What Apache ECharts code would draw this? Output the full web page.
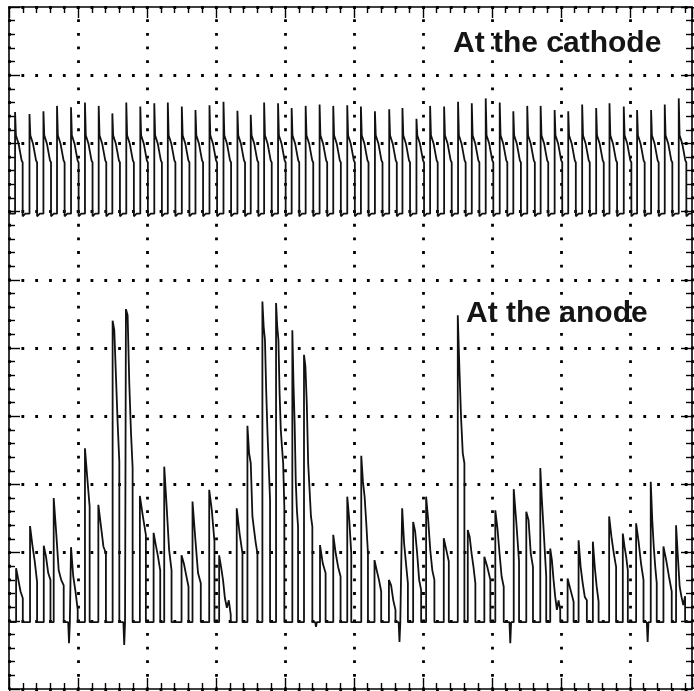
<!DOCTYPE html>
<html>
<head>
<meta charset="utf-8">
<script src="https://cdn.jsdelivr.net/npm/echarts@6/dist/echarts.min.js"></script>
<style>html,body{margin:0;padding:0;background:#fff;}#c{width:694px;height:691px;}</style>
</head>
<body>
<div id="c"></div>
<script>
// Time in screen divisions, amplitude in divisions from the bottom edge
const xMax = 9.9;
const yMax = 10;

// ---- Cathode trace ----
const cathodeRise = [0.088,0.297,0.499,0.696,0.899,1.101,1.300,1.498,1.700,1.903,2.106,2.302,2.505,2.703,2.906,3.109,3.311,3.504,3.698,3.900,4.097,4.300,4.502,4.700,4.903,5.101,5.304,5.511,5.703,5.906,6.104,6.307,6.509,6.708,6.910,7.113,7.310,7.512,7.706,7.909,8.106,8.308,8.511,8.704,8.911,9.104,9.307,9.505,9.708];
const cathodePeak = [8.46,8.43,8.47,8.55,8.53,8.60,8.55,8.44,8.60,8.54,8.59,8.60,8.54,8.49,8.56,8.61,8.48,8.42,8.60,8.59,8.52,8.55,8.57,8.55,8.56,8.54,8.47,8.50,8.52,8.36,8.55,8.54,8.61,8.59,8.66,8.60,8.47,8.55,8.55,8.49,8.47,8.57,8.52,8.59,8.54,8.49,8.49,8.57,8.66];
const cathodeWidth = 0.11;
const cathodeDecayX = [0.012, 0.05, 0.095];
const cathodeDecayY = [8.12, 8.00, 7.75];
const cathodeEndLevel = 7.72;
const cathodeBase = 6.97;
const cathodeUndershoot = 6.93;

// ---- Anode trace ----
const anodeRise = [0.103,0.305,0.504,0.648,0.899,1.101,1.295,1.502,1.695,1.897,2.096,2.250,2.501,2.660,2.902,3.046,3.301,3.456,3.673,3.871,4.107,4.276,4.508,4.700,4.903,5.106,5.298,5.507,5.699,5.858,6.046,6.302,6.505,6.650,6.890,7.049,7.316,7.498,7.701,7.845,8.097,8.256,8.463,8.699,8.897,9.090,9.302,9.486,9.669];
const anodeFall = [0.200,0.407,0.601,0.793,0.996,1.169,1.405,1.599,1.792,1.984,2.192,2.356,2.602,2.780,2.978,3.214,3.384,3.601,3.784,3.991,4.190,4.397,4.589,4.806,4.961,5.203,5.395,5.602,5.782,5.974,6.166,6.375,6.601,6.760,6.977,7.171,7.393,7.595,7.787,7.990,8.184,8.376,8.546,8.800,8.970,9.197,9.389,9.606,9.800];
const anodeLevels = [
  [1.77,1.60,1.43,1.33],
  [2.39,2.11,1.87,1.57],
  [2.10,1.94,1.70,1.60],
  [2.80,2.29,1.74,1.60,1.52],
  [2.08,1.65,1.43,1.16],
  [3.53,3.09,2.67],
  [2.70,2.40,2.09,1.99],
  [5.40,5.26,4.58,3.90,3.33],
  [5.57,5.48,4.48,3.77,3.24],
  [2.83,2.53,2.26],
  [2.29,2.11,1.94,1.74],
  [3.26,2.67,2.04,1.74],
  [1.96,1.84,1.67,1.50],
  [2.75,2.21,1.70,1.55],
  [2.92,2.62,2.16],
  [1.96,1.79,1.60,1.33,1.19,1.30,1.09],
  [2.65,2.28,1.99],
  [3.86,3.46,3.31,2.53,2.33,2.14,1.99],
  [5.68,5.31,5.12,4.36,3.75,3.26,2.77],
  [5.66,5.31,5.12,4.33,3.80,3.55,3.31,2.67],
  [5.26,4.48,3.90,3.04,2.62,2.38],
  [4.90,4.73,4.19,3.31,2.92,2.53,2.38],
  [2.11,1.84,1.70],
  [2.26,1.99,1.79,1.65],
  [2.82,2.48,1.99],
  [3.42,3.04,2.82,2.43,1.99],
  [1.89,1.74,1.60,1.43],
  [1.60,1.52,1.30,1.16],
  [2.65,2.14,1.84,1.55],
  [2.45,2.31,1.99,1.60,1.45],
  [2.82,2.48,2.04,1.74,1.60],
  [2.21,2.04,1.87],
  [5.48,4.68,3.97,3.46,3.31],
  [2.33,2.23,1.99,1.79,1.55],
  [1.94,1.79,1.60],
  [2.62,2.36,1.99,1.65,1.50],
  [2.93,2.43,1.87],
  [2.60,2.48,1.99,1.79],
  [3.24,2.80,2.43,2.04,1.65],
  [2.06,1.89,1.60,1.35,1.16,1.30,1.16],
  [1.62,1.45,1.28],
  [2.18,1.79,1.55,1.35,1.30],
  [2.16,1.79,1.50,1.28],
  [2.53,2.23,1.99,1.79],
  [2.28,2.09,1.94,1.74],
  [2.43,2.16,1.84,1.60],
  [3.04,2.48,2.09,1.79,1.55],
  [2.09,1.89,1.65,1.43],
  [2.40,1.94,1.50,1.35,1.23,1.36]
];
const anodeBase = 0.98;
const anodeDipX = [0.870, 1.670, 4.450, 5.660, 7.266, 9.257];
const anodeDipY = [0.67, 0.645, 0.91, 0.69, 0.67, 0.69];
const dipHalfWidth = 0.012;

const labelCathode = 'At the cathode';
const labelAnode = 'At the anode';

// ---- build polylines ----
const cathodePts = [[0, cathodeBase]];
for (let i = 0; i < cathodeRise.length; i++) {
  const r = cathodeRise[i];
  cathodePts.push([r, cathodeBase], [r, cathodePeak[i]]);
  for (let j = 0; j < cathodeDecayX.length; j++) cathodePts.push([r + cathodeDecayX[j], cathodeDecayY[j]]);
  cathodePts.push([r + cathodeWidth, cathodeEndLevel], [r + cathodeWidth, cathodeUndershoot], [r + cathodeWidth + 0.04, cathodeBase]);
}
cathodePts.push([xMax, cathodeBase]);

const anodePts = [[0, anodeBase]];
let d = 0;
for (let i = 0; i < anodeRise.length; i++) {
  const r = anodeRise[i], f = anodeFall[i], lv = anodeLevels[i];
  while (d < anodeDipX.length && anodeDipX[d] < r) {
    anodePts.push([anodeDipX[d] - dipHalfWidth, anodeBase], [anodeDipX[d], anodeDipY[d]], [anodeDipX[d] + dipHalfWidth, anodeBase]);
    d++;
  }
  anodePts.push([r, anodeBase]);
  const n = lv.length;
  for (let j = 0; j < n; j++) anodePts.push([r + (f - r) * j / (n - 1), lv[j]]);
  anodePts.push([f, anodeBase]);
}
anodePts.push([xMax, anodeBase]);

const black = '#000';
function xAx(pos, split) {
  return {
    type: 'value', position: pos, min: 0, max: xMax, interval: 1,
    axisLine: { show: true, onZero: false, lineStyle: { color: black, width: 1.6 } },
    axisTick: { show: true, inside: true, length: 11, lineStyle: { color: black, width: 1.4 } },
    minorTick: { show: true, splitNumber: 5, length: 6, lineStyle: { color: black, width: 1.4 } },
    axisLabel: { show: false },
    splitLine: { show: split, lineStyle: { color: black, width: 2.8, type: [2.8, 10.84], dashOffset: 1.4 } },
    minorSplitLine: { show: false }
  };
}
function yAx(pos, split) {
  return {
    type: 'value', position: pos, min: 0, max: yMax, interval: 1,
    axisLine: { show: true, onZero: false, lineStyle: { color: black, width: 1.6 } },
    axisTick: { show: true, inside: true, length: 11, lineStyle: { color: black, width: 1.4 } },
    minorTick: { show: true, splitNumber: 5, length: 6, lineStyle: { color: black, width: 1.4 } },
    axisLabel: { show: false },
    splitLine: { show: split, lineStyle: { color: black, width: 2.8, type: [2.8, 11.02], dashOffset: 1.4 } },
    minorSplitLine: { show: false }
  };
}

const chart = echarts.init(document.getElementById('c'));
chart.setOption({
  animation: false,
  backgroundColor: '#fff',
  grid: { left: 9, top: 7, width: 683, height: 682, containLabel: false },
  xAxis: [xAx('bottom', true), xAx('top', false)],
  yAxis: [yAx('left', true), yAx('right', false)],
  series: [
    { type: 'line', data: cathodePts, showSymbol: false, symbol: 'none', sampling: null,
      lineStyle: { color: '#111', width: 1.8 }, clip: true, z: 3 },
    { type: 'line', data: anodePts, showSymbol: false, symbol: 'none', sampling: null,
      lineStyle: { color: '#111', width: 1.8 }, clip: true, z: 3 }
  ],
  graphic: [
    { type: 'text', left: 453, top: 29, z: 10,
      style: { text: labelCathode, font: 'bold 30px "Liberation Sans", Arial, sans-serif', fill: '#151515' } },
    { type: 'text', left: 466, top: 299, z: 10,
      style: { text: labelAnode, font: 'bold 30px "Liberation Sans", Arial, sans-serif', fill: '#151515' } }
  ]
});
</script>
</body>
</html>
